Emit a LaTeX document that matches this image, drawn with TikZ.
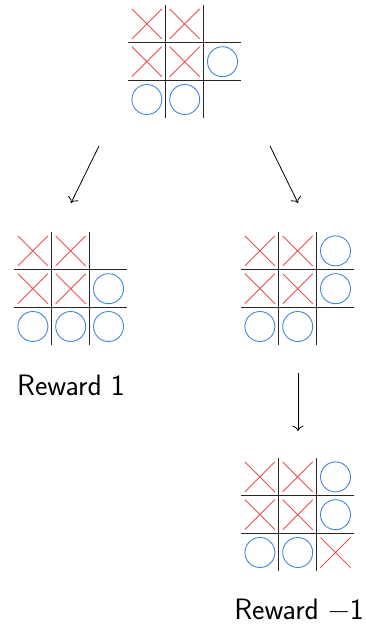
\documentclass[tikz,border=0pt]{standalone}
\usepackage{fontspec}
\usetikzlibrary{arrows.meta}
\definecolor{xred}{RGB}{234,78,78}
\definecolor{oblue}{RGB}{66,133,222}
\newcommand{\tttboard}[5]{%
  \node[boardbox] (#1) at (#2+56.7,#3+56.7) {};
  \begin{scope}[shift={(#2,#3)}]
    \draw[gridline] (37.8,0) -- (37.8,113.4);
    \draw[gridline] (75.6,0) -- (75.6,113.4);
    \draw[gridline] (0,37.8) -- (113.4,37.8);
    \draw[gridline] (0,75.6) -- (113.4,75.6);
    \foreach \i/\j in {#4} {
      \draw[xmark] (\i*37.8+3.9,\j*37.8+3.9) -- ++(30,30);
      \draw[xmark] (\i*37.8+3.9,\j*37.8+33.9) -- ++(30,-30);
    }
    \foreach \i/\j in {#5} {
      \draw[omark] (\i*37.8+18.9,\j*37.8+18.9) circle[radius=15];
    }
  \end{scope}}
\begin{document}
\begin{tikzpicture}[x=1pt,y=-1pt,
  boardbox/.style={minimum size=113.4pt,inner sep=0pt,outer sep=0pt},
  gridline/.style={line width=1.3pt,black!85},
  xmark/.style={draw=xred,line width=0.9pt},
  omark/.style={draw=oblue,line width=0.9pt},
  arr/.style={-{To[scale=1.6]},line width=0.8pt},
  lab/.style={font=\fontsize{29.5}{33}\selectfont\sffamily,inner sep=0pt}]
\useasboundingbox (0,0) rectangle (365,626);
\tttboard{b0}{128}{5}{0/0,1/0,0/1,1/1}{2/1,0/2,1/2}
\tttboard{bL}{14}{232}{0/0,1/0,0/1,1/1}{2/1,0/2,1/2,2/2}
\tttboard{bR}{241}{232}{0/0,1/0,0/1,1/1}{2/0,2/1,0/2,1/2}
\tttboard{bB}{241}{458}{0/0,1/0,0/1,1/1,2/2}{2/0,2/1,0/2,1/2}
\node[lab] (rL) at (71,385) {Reward 1};
\node[lab] (rB) at (299,609) {Reward −1};
\coordinate (a1s) at (99,146);
\coordinate (a1e) at (71,203);
\coordinate (a2s) at (270,146);
\coordinate (a2e) at (298,203);
\coordinate (a3s) at (298,373);
\coordinate (a3e) at (298,431);
\draw[arr] (a1s) -- (a1e);
\draw[arr] (a2s) -- (a2e);
\draw[arr] (a3s) -- (a3e);
\end{tikzpicture}
\end{document}
